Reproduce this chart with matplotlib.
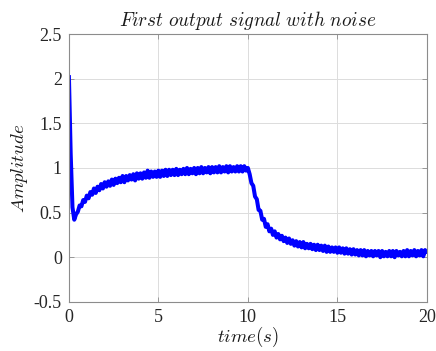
import numpy as np
import matplotlib
matplotlib.use("Agg")
import matplotlib.pyplot as plt

plt.rcParams["mathtext.fontset"] = "cm"

# sampling grid of the recorded signal (seconds)
t_start, t_stop, t_step = 0.0, 20.0, 0.1

# first output signal (noisy measurement), one value per 0.1 s
signal = [
    2.04, 1.16, 0.56, 0.42, 0.48, 0.51, 0.58, 0.57, 0.64, 0.62,   # 0.0 - 0.9
    0.69, 0.66, 0.73, 0.70, 0.77, 0.72, 0.79, 0.75, 0.82, 0.77,   # 1.0 - 1.9
    0.84, 0.79, 0.85, 0.80, 0.87, 0.81, 0.88, 0.83, 0.89, 0.84,   # 2.0 - 2.9
    0.91, 0.84, 0.91, 0.86, 0.92, 0.87, 0.93, 0.86, 0.94, 0.88,   # 3.0 - 3.9
    0.94, 0.88, 0.95, 0.89, 0.97, 0.89, 0.96, 0.90, 0.96, 0.90,   # 4.0 - 4.9
    0.97, 0.90, 0.97, 0.91, 0.98, 0.91, 0.98, 0.92, 0.98, 0.92,   # 5.0 - 5.9
    0.99, 0.92, 0.98, 0.93, 0.99, 0.93, 1.00, 0.93, 0.99, 0.94,   # 6.0 - 6.9
    1.00, 0.93, 1.00, 0.94, 1.01, 0.94, 1.00, 0.95, 1.01, 0.94,   # 7.0 - 7.9
    1.01, 0.95, 1.01, 0.95, 1.02, 0.95, 1.01, 0.96, 1.02, 0.95,   # 8.0 - 8.9
    1.02, 0.96, 1.01, 0.96, 1.02, 0.96, 1.02, 0.96, 1.02, 0.97,   # 9.0 - 9.9
    1.00, 0.93, 0.83, 0.80, 0.68, 0.65, 0.53, 0.52, 0.42, 0.43,   # 10.0 - 10.9
    0.34, 0.37, 0.29, 0.32, 0.25, 0.29, 0.22, 0.26, 0.20, 0.24,   # 11.0 - 11.9
    0.18, 0.22, 0.16, 0.21, 0.15, 0.19, 0.13, 0.18, 0.12, 0.17,   # 12.0 - 12.9
    0.11, 0.17, 0.10, 0.15, 0.10, 0.15, 0.09, 0.14, 0.08, 0.14,   # 13.0 - 13.9
    0.08, 0.13, 0.07, 0.13, 0.06, 0.12, 0.06, 0.11, 0.06, 0.11,   # 14.0 - 14.9
    0.05, 0.11, 0.05, 0.10, 0.04, 0.10, 0.04, 0.09, 0.03, 0.09,   # 15.0 - 15.9
    0.03, 0.08, 0.02, 0.08, 0.02, 0.08, 0.01, 0.07, 0.02, 0.07,   # 16.0 - 16.9
    0.01, 0.07, 0.02, 0.07, 0.00, 0.07, 0.01, 0.06, 0.01, 0.07,   # 17.0 - 17.9
    0.01, 0.07, 0.00, 0.07, 0.02, 0.06, 0.01, 0.07, 0.01, 0.08,   # 18.0 - 18.9
    0.01, 0.07, 0.02, 0.08, 0.01, 0.07, 0.02, 0.08, 0.01, 0.08,   # 19.0 - 19.9
    0.04,                                                         # 20.0
]

x_ticks = [0, 5, 10, 15, 20]
y_ticks = [-0.5, 0, 0.5, 1, 1.5, 2, 2.5]
y_tick_labels = ["-0.5", "0", "0.5", "1", "1.5", "2", "2.5"]

time = np.arange(len(signal)) * t_step + t_start

fig = plt.figure(figsize=(4.36, 3.51), dpi=100)
ax = fig.add_axes([0.158, 0.140, 0.821, 0.763])

ax.plot(time, signal, color="#0000ff", linewidth=2.9,
        solid_joinstyle="round", solid_capstyle="butt")

ax.set_xlim(t_start, t_stop)
ax.set_ylim(-0.5, 2.5)
ax.set_xticks(x_ticks)
ax.set_xticklabels([str(v) for v in x_ticks])
ax.set_yticks(y_ticks)
ax.set_yticklabels(y_tick_labels)

ax.grid(True, color="#dcdcdc", linewidth=0.7)
ax.set_axisbelow(True)

for side in ax.spines.values():
    side.set_color("#8c8c8c")
    side.set_linewidth(0.8)

ax.tick_params(direction="in", top=True, right=True, length=3.5,
               width=0.6, color="#8c8c8c", labelcolor="#262626",
               labelsize=13, pad=5)
for lbl in ax.get_xticklabels() + ax.get_yticklabels():
    lbl.set_family("Liberation Serif")

ax.set_title(r"$First\ output\ signal\ with\ noise$", fontsize=13.8,
             color="#1a1a1a", pad=6)
ax.set_xlabel(r"$time(s)$", fontsize=13.5, color="#1a1a1a", labelpad=-1)
ax.set_ylabel(r"$Amplitude$", fontsize=13.5, color="#1a1a1a", labelpad=3)

fig.savefig("out.png", dpi=100)
